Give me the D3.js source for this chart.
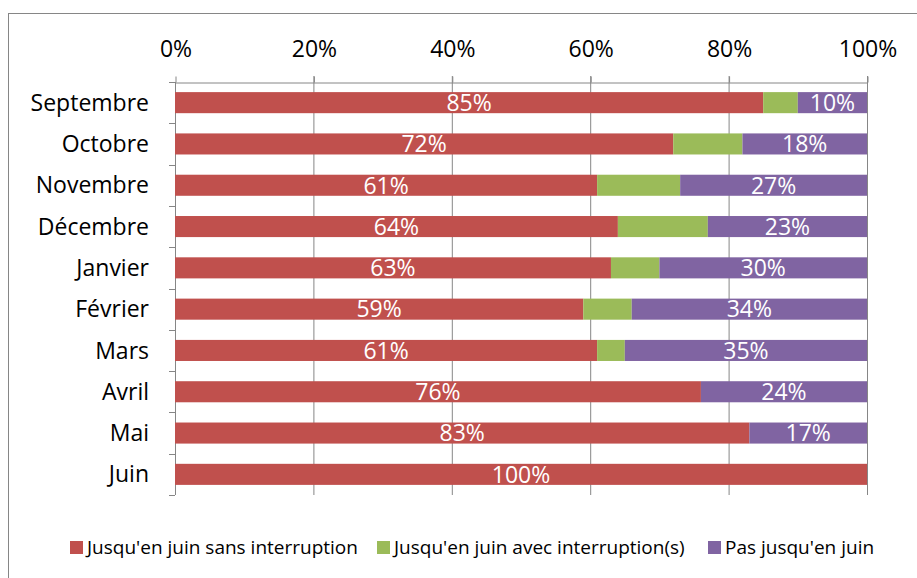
<!DOCTYPE html>
<html>
<head>
<meta charset="utf-8">
<script src="https://cdn.jsdelivr.net/npm/d3@7"></script>
<style>
  body { margin: 0; background: #fff; }
  svg { font-family: "Open Sans", sans-serif; }
</style>
</head>
<body>
<script>
var width = 917;
var height = 578;

var months = ["Septembre", "Octobre", "Novembre", "Décembre", "Janvier", "Février", "Mars", "Avril", "Mai", "Juin"];
var sansInterruption = [85, 72, 61, 64, 63, 59, 61, 76, 83, 100];
var avecInterruption = [5, 10, 12, 13, 7, 7, 4, 0, 0, 0];
var pasJusqu = [10, 18, 27, 23, 30, 34, 35, 24, 17, 0];
var seriesNames = ["Jusqu'en juin sans interruption", "Jusqu'en juin avec interruption(s)", "Pas jusqu'en juin"];
var colors = ["#c0504d", "#9bbb59", "#8064a2"];
var ticks = [0, 0.2, 0.4, 0.6, 0.8, 1];

var svg = d3.select("body").append("svg")
  .attr("width", width)
  .attr("height", height);

// outer frame
svg.append("rect")
  .attr("x", 8.5).attr("y", 13.5)
  .attr("width", 920).attr("height", 580)
  .attr("fill", "none").attr("stroke", "#868686").attr("stroke-width", 1);

var x = d3.scaleLinear().domain([0, 1]).range([175, 867]);
var y = d3.scaleBand().domain(months).range([82, 495]).paddingInner(0.49).paddingOuter(0.245);
var yTicks = d3.scaleBand().domain(months).range([82, 495]);

// grid lines
svg.append("g").selectAll("line")
  .data(ticks.slice(1))
  .enter().append("line")
  .attr("x1", function (d) { return x(d) + 0.5; })
  .attr("x2", function (d) { return x(d) + 0.5; })
  .attr("y1", 76).attr("y2", 495)
  .attr("stroke", "#868686");

// top axis
var axisTop = d3.axisTop(x)
  .tickValues(ticks)
  .tickFormat(d3.format(".0%"))
  .tickSize(6)
  .tickSizeOuter(0)
  .tickPadding(20);
var gx = svg.append("g").attr("transform", "translate(0.5,82.5)").call(axisTop);
gx.select(".domain").attr("stroke", "#868686");
gx.selectAll(".tick line").attr("stroke", "#868686");
gx.selectAll(".tick text").attr("font-size", 23).attr("fill", "#000").attr("font-family", "Open Sans");

// left category axis
svg.append("line")
  .attr("x1", 175.5).attr("x2", 175.5).attr("y1", 82).attr("y2", 495)
  .attr("stroke", "#868686");
svg.append("g").selectAll("line")
  .data(months.concat(["end"]))
  .enter().append("line")
  .attr("x1", 169).attr("x2", 175)
  .attr("y1", function (d, i) { return Math.round(82 + i * yTicks.step()) + 0.5; })
  .attr("y2", function (d, i) { return Math.round(82 + i * yTicks.step()) + 0.5; })
  .attr("stroke", "#868686");

svg.append("g").selectAll("text")
  .data(months)
  .enter().append("text")
  .attr("x", 149)
  .attr("y", function (d) { return y(d) + y.bandwidth() / 2; })
  .attr("dy", "0.35em")
  .attr("text-anchor", "end")
  .attr("font-size", 23)
  .text(function (d) { return d; });

// stacked bars
var rows = months.map(function (m, i) {
  return { month: m, a: sansInterruption[i] / 100, b: avecInterruption[i] / 100, c: pasJusqu[i] / 100 };
});
var stack = d3.stack().keys(["a", "b", "c"]);
var layers = stack(rows);

var layerG = svg.append("g").selectAll("g")
  .data(layers)
  .enter().append("g")
  .attr("fill", function (d, i) { return colors[i]; });

layerG.selectAll("rect")
  .data(function (d) { return d; })
  .enter().append("rect")
  .attr("x", function (d) { return x(d[0]); })
  .attr("y", function (d) { return y(d.data.month); })
  .attr("width", function (d) { return x(d[1]) - x(d[0]); })
  .attr("height", y.bandwidth());

// data labels (first and last series only)
layerG.filter(function (d, i) { return i != 1; })
  .selectAll("text")
  .data(function (d) { return d.filter(function (p) { return p[1] - p[0] > 0; }); })
  .enter().append("text")
  .attr("x", function (d) { return (x(d[0]) + x(d[1])) / 2; })
  .attr("y", function (d) { return y(d.data.month) + y.bandwidth() / 2; })
  .attr("dy", "0.36em")
  .attr("text-anchor", "middle")
  .attr("fill", "#fff")
  .attr("font-size", 23)
  .text(function (d) { return Math.round((d[1] - d[0]) * 100) + "%"; });

// legend
var legendX = [70, 377, 708];
var legend = svg.append("g").selectAll("g")
  .data(seriesNames)
  .enter().append("g")
  .attr("transform", function (d, i) { return "translate(" + legendX[i] + ",541)"; });
legend.append("rect")
  .attr("width", 13).attr("height", 13)
  .attr("fill", function (d, i) { return colors[i]; });
legend.append("text")
  .attr("x", 17).attr("y", 6.5)
  .attr("dy", "0.35em")
  .attr("font-size", 19)
  .text(function (d) { return d; });
</script>
</body>
</html>
